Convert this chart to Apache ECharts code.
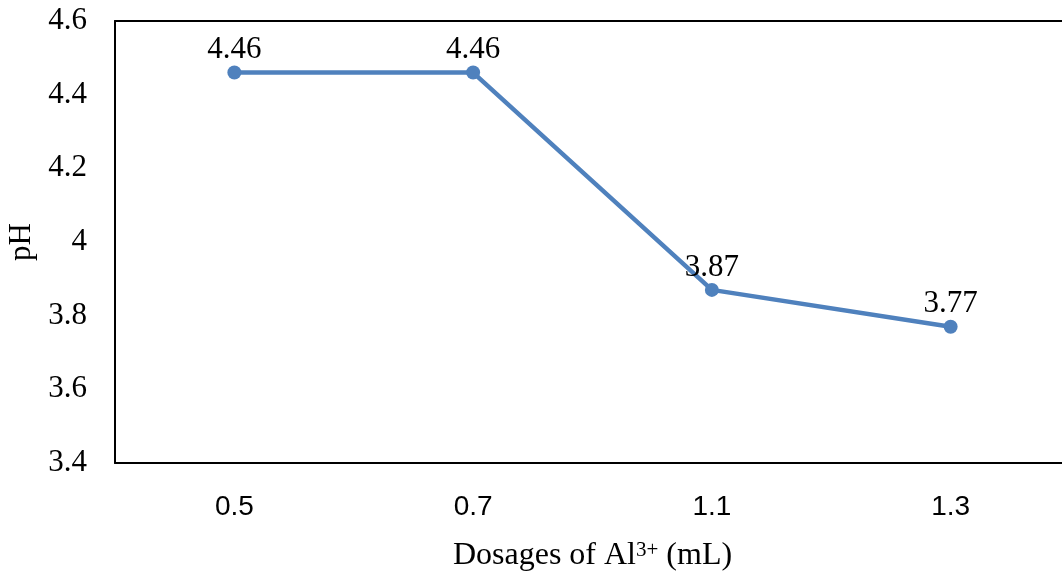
<!DOCTYPE html>
<html>
<head>
<meta charset="utf-8">
<script src="https://cdn.jsdelivr.net/npm/echarts@6/dist/echarts.min.js"></script>
<style>html,body{margin:0;padding:0;background:#fff}#c{width:1062px;height:574px}</style>
</head>
<body>
<div id="c"></div>
<script>
// Dosage of Al3+ (mL) and resulting pH
const dosages = ['0.5', '0.7', '1.1', '1.3'];
const phValues = [4.46, 4.46, 3.87, 3.77];
const yTicks = { min: 3.4, max: 4.6, interval: 0.2 };

const serif = '"Liberation Serif", "Times New Roman", serif';
const sans = '"Liberation Sans", Arial, sans-serif';

const chart = echarts.init(document.getElementById('c'));
chart.setOption({
  animation: false,
  grid: { left: 115, top: 21, right: -8, bottom: 111, outerBoundsMode: 'none', containLabel: false },
  xAxis: [{
    type: 'category',
    data: dosages,
    boundaryGap: true,
    axisLine: { show: true, lineStyle: { color: '#000', width: 2 } },
    axisTick: { show: false },
    axisLabel: { color: '#000', fontFamily: sans, fontSize: 28, margin: 30 },
    name: '{a|Dosages of Al}{s|3+}{a| (mL)}',
    nameLocation: 'middle',
    nameGap: 76,
    nameTextStyle: {
      rich: {
        a: { fontFamily: serif, fontSize: 32, color: '#000', lineHeight: 34 },
        s: { fontFamily: serif, fontSize: 21, color: '#000', lineHeight: 34, padding: [0, 0, 12, 0] }
      }
    }
  }, {
    // top frame line
    type: 'category',
    data: dosages,
    position: 'top',
    axisLine: { show: true, lineStyle: { color: '#000', width: 2 } },
    axisTick: { show: false },
    axisLabel: { show: false }
  }],
  yAxis: {
    type: 'value',
    min: yTicks.min, max: yTicks.max, interval: yTicks.interval,
    axisLine: { show: true, lineStyle: { color: '#000', width: 2 } },
    axisTick: { show: false },
    splitLine: { show: false },
    axisLabel: {
      color: '#000', fontFamily: serif, fontSize: 31, margin: 28,
      formatter: v => String(Math.round(v * 10) / 10)
    },
    name: 'pH',
    nameLocation: 'middle',
    nameGap: 72,
    nameTextStyle: { fontFamily: serif, fontSize: 31, color: '#000' }
  },
  series: [{
    type: 'line',
    data: phValues,
    symbol: 'circle',
    symbolSize: 14,
    lineStyle: { color: '#4F81BD', width: 4.5 },
    itemStyle: { color: '#4F81BD' },
    label: {
      show: true, position: 'top', distance: 0,
      color: '#000', fontFamily: serif, fontSize: 31,
      formatter: p => p.value.toFixed(2)
    }
  }]
});
</script>
</body>
</html>
